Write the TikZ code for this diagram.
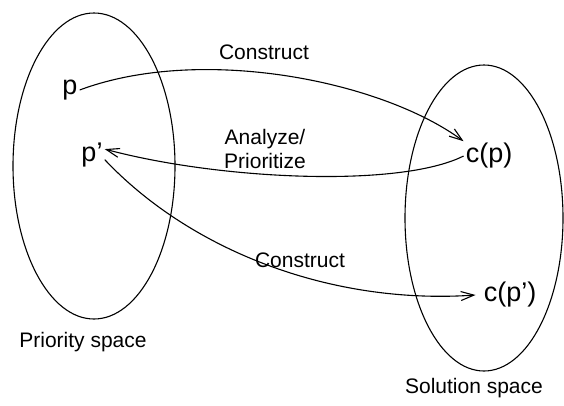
\documentclass[tikz,border=0pt]{standalone}
\usepackage{fontspec}
\setmainfont{Liberation Sans}
\usetikzlibrary{arrows.meta}
\begin{document}
\begin{tikzpicture}[x=1pt,y=-1pt,
  sym/.style={font=\fontsize{27}{30}\selectfont, inner sep=2pt},
  lab/.style={font=\fontsize{21}{24}\selectfont, inner sep=1pt},
  conn/.style={line width=1.1pt, -{Straight Barb[length=13pt,width=9pt,line width=1.1pt]}},
  space/.style={line width=1.1pt}]
\useasboundingbox (0,0) rectangle (564,405);
\draw[space] (94,166) ellipse [x radius=81, y radius=153];
\draw[space] (484,218) ellipse [x radius=79, y radius=153];
\node[sym] (p) at (70,90) {p};
\node[sym] (pp) at (92,155) {p’};
\node[sym] (cp) at (489,156) {c(p)};
\node[sym] (cpp) at (510,295) {c(p’)};
\node[lab] (l1) at (264,52) {Construct};
\node[lab, align=center] (l2) at (265,149) {Analyze/\\Prioritize};
\node[lab] (l3) at (300,260) {Construct};
\node[lab] (ps) at (83,342) {Priority space};
\node[lab] (ss) at (474,388) {Solution space};
\draw[conn] (p.east) .. controls (200,45) and (380,80) .. (cp.north west);
\draw[conn] (cp.west) .. controls (400,188) and (220,180) .. (pp.25);
\draw[conn] (pp.-20) .. controls (190,250) and (330,305) .. ([xshift=-6pt]cpp.west);
\end{tikzpicture}
\end{document}
